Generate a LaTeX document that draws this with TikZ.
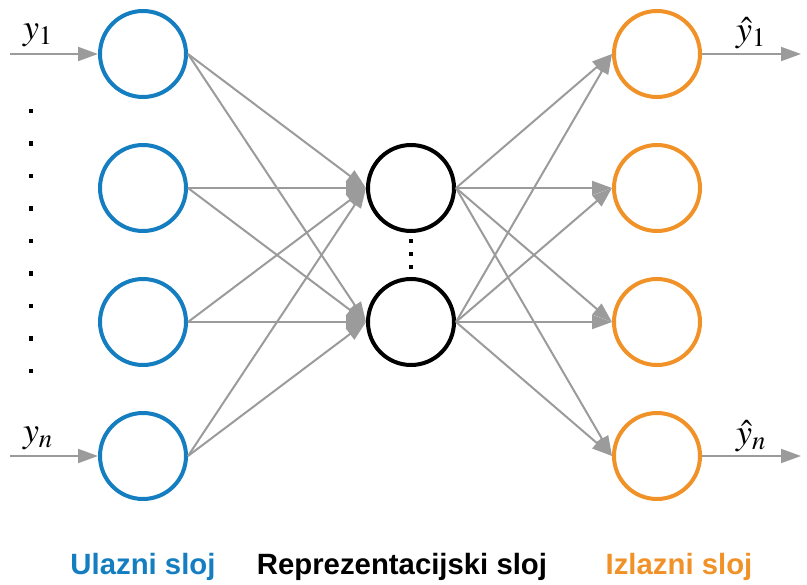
\documentclass[tikz,border=0pt]{standalone}
\usepackage{mathptmx}
\usepackage{fontspec}
\setsansfont{Liberation Sans}
\usetikzlibrary{arrows.meta}
\definecolor{inblue}{RGB}{20,126,192}
\definecolor{outorange}{RGB}{240,146,40}
\definecolor{linkgray}{RGB}{155,155,155}
\begin{document}
\begin{tikzpicture}[x=0.75pt, y=-0.75pt]
  % Define styles
  \tikzstyle{neuron}=[circle, line width=3pt, minimum size=64.5pt, inner sep=0pt]
  \tikzstyle{inneuron}=[neuron, draw=inblue]
  \tikzstyle{hidneuron}=[neuron, draw=black]
  \tikzstyle{outneuron}=[neuron, draw=outorange]
  \tikzstyle{link}=[-{Triangle[length=15pt,width=10.5pt]}, line width=1.5pt, color=linkgray]
  \tikzstyle{dot}=[fill=black, minimum size=3.2pt, inner sep=0pt]
  \tikzstyle{mathlabel}=[font=\fontsize{27}{30}\selectfont, inner sep=0pt]
  \tikzstyle{layername}=[font=\sffamily\bfseries\fontsize{22}{26}\selectfont, anchor=base, inner sep=0pt]

  \useasboundingbox (0,0) rectangle (807,585);

  % Input layer
  \node[inneuron] (in1) at (143,54) {};
  \node[inneuron] (in2) at (143,188) {};
  \node[inneuron] (in3) at (143,322) {};
  \node[inneuron] (in4) at (143,456) {};

  % Hidden layer
  \node[hidneuron] (hid1) at (411,188) {};
  \node[hidneuron] (hid2) at (411,322) {};

  % Output layer
  \node[outneuron] (out1) at (657,54) {};
  \node[outneuron] (out2) at (657,188) {};
  \node[outneuron] (out3) at (657,322) {};
  \node[outneuron] (out4) at (657,456) {};

  % Inputs and outputs
  \coordinate (src1) at (10,54);
  \coordinate (srcn) at (10,456);
  \coordinate (dst1) at (801,54);
  \coordinate (dstn) at (801,456);
  \node[mathlabel] (ly1) at (38,35) {$y_1$};
  \node[mathlabel] (lyn) at (38,438) {$y_n$};
  \node[mathlabel] (lhy1) at (751,33) {$\hat{y}_1$};
  \node[mathlabel] (lhyn) at (751,436) {$\hat{y}_n$};

  % Dots
  \foreach \i in {0,...,8}
    \node[dot] (ldot\i) at (31,{111+32.5*\i}) {};
  \node[dot] (hdot1) at (411,241) {};
  \node[dot] (hdot2) at (411,254) {};
  \node[dot] (hdot3) at (411,267) {};

  % Layer names
  \node[layername, text=inblue] (nin) at (143,574) {Ulazni sloj};
  \node[layername, text=black] (nhid) at (402,574) {Reprezentacijski sloj};
  \node[layername, text=outorange] (nout) at (679,574) {Izlazni sloj};

  % Connections
  \draw[link] (src1) -- (in1.west);
  \draw[link] (srcn) -- (in4.west);
  \draw[link] (out1.east) -- (dst1);
  \draw[link] (out4.east) -- (dstn);

  \draw[link] (in1.east) -- (hid1.west);
  \draw[link] (in1.east) -- (hid2.west);
  \draw[link] (in2.east) -- (hid1.west);
  \draw[link] (in2.east) -- (hid2.west);
  \draw[link] (in3.east) -- (hid1.west);
  \draw[link] (in3.east) -- (hid2.west);
  \draw[link] (in4.east) -- (hid1.west);
  \draw[link] (in4.east) -- (hid2.west);

  \draw[link] (hid1.east) -- (out1.west);
  \draw[link] (hid1.east) -- (out2.west);
  \draw[link] (hid1.east) -- (out3.west);
  \draw[link] (hid1.east) -- (out4.west);
  \draw[link] (hid2.east) -- (out1.west);
  \draw[link] (hid2.east) -- (out2.west);
  \draw[link] (hid2.east) -- (out3.west);
  \draw[link] (hid2.east) -- (out4.west);
\end{tikzpicture}
\end{document}
